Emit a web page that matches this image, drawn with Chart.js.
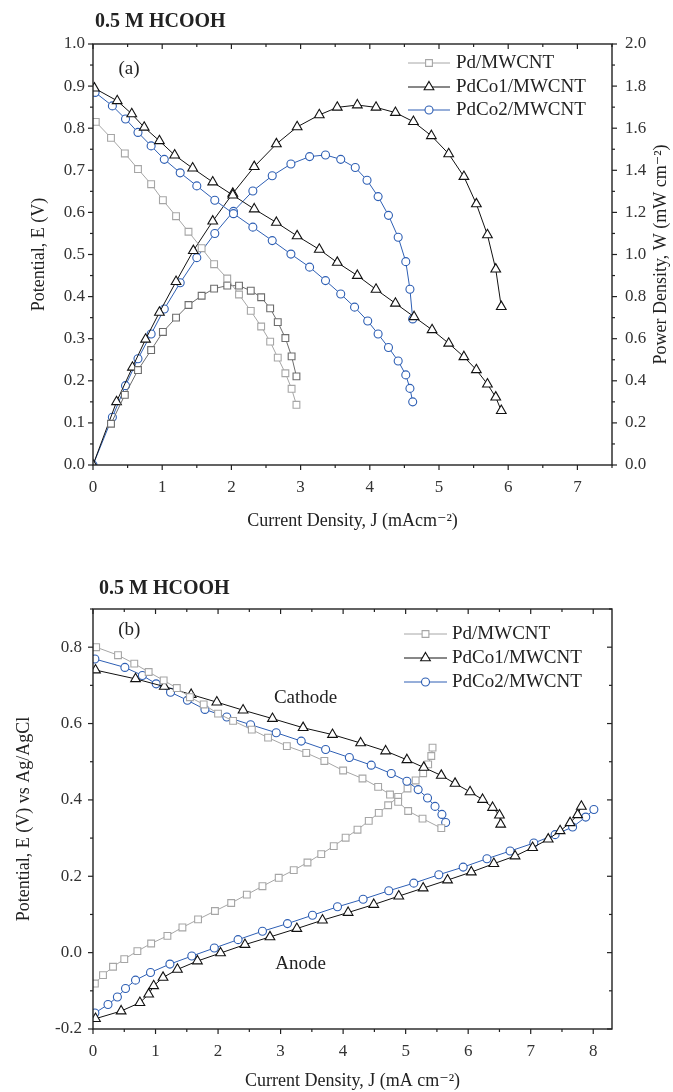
<!DOCTYPE html>
<html>
<head>
<meta charset="utf-8">
<title>Pd/MWCNT and PdCo/MWCNT in 0.5 M HCOOH</title>
<script src="https://cdn.jsdelivr.net/npm/chart.js@4.4.1/dist/chart.umd.min.js"></script>
<style>
  body { margin: 0; background: #fff; }
  canvas { position: absolute; left: 0; }
  #chartA { top: 0; }
  #chartB { top: 560px; }
</style>
</head>
<body>
<canvas id="chartA" width="673" height="545"></canvas>
<canvas id="chartB" width="673" height="532"></canvas>
<script>
// ---- (a) polarization (left axis) and power density (right axis) ----
var jPd  = [0.04,0.26,0.46,0.65,0.84,1.01,1.20,1.38,1.57,1.75,1.94,2.11,2.28,2.43,2.56,2.67,2.78,2.87,2.94];
var ePd  = [0.815,0.777,0.740,0.703,0.667,0.629,0.591,0.554,0.515,0.477,0.443,0.405,0.366,0.329,0.293,0.255,0.218,0.181,0.143];
var jPdW = [0.26,0.46,0.65,0.84,1.01,1.20,1.38,1.57,1.75,1.94,2.11,2.28,2.43,2.56,2.67,2.78,2.87,2.94];
var wPd  = [0.196,0.333,0.451,0.546,0.632,0.700,0.760,0.804,0.838,0.852,0.852,0.828,0.797,0.744,0.679,0.603,0.516,0.421];

var jCo1  = [0.02,0.35,0.56,0.74,0.96,1.18,1.44,1.73,2.02,2.33,2.65,2.95,3.27,3.53,3.82,4.09,4.37,4.64,4.90,5.14,5.36,5.54,5.70,5.82,5.90];
var eCo1  = [0.895,0.865,0.834,0.802,0.770,0.736,0.705,0.672,0.641,0.608,0.576,0.544,0.512,0.481,0.450,0.417,0.384,0.352,0.321,0.289,0.257,0.226,0.192,0.161,0.129];
var jCo1W = [0,0.34,0.57,0.76,0.96,1.20,1.45,1.73,2.02,2.33,2.65,2.95,3.27,3.53,3.82,4.09,4.37,4.63,4.89,5.14,5.36,5.54,5.70,5.82,5.90];
var wCo1  = [0,0.300,0.464,0.597,0.725,0.871,1.018,1.158,1.290,1.417,1.525,1.606,1.663,1.699,1.710,1.699,1.674,1.631,1.564,1.478,1.370,1.240,1.093,0.930,0.752];

var jCo2  = [0.03,0.28,0.47,0.65,0.84,1.03,1.26,1.50,1.76,2.03,2.31,2.59,2.86,3.13,3.36,3.58,3.78,3.97,4.12,4.27,4.41,4.52,4.58,4.62];
var eCo2  = [0.885,0.853,0.822,0.790,0.758,0.726,0.694,0.663,0.629,0.597,0.565,0.533,0.501,0.470,0.438,0.406,0.375,0.342,0.311,0.279,0.247,0.214,0.182,0.150];
var jCo2W = [0,0.28,0.47,0.65,0.84,1.03,1.26,1.50,1.76,2.03,2.31,2.59,2.86,3.13,3.36,3.58,3.79,3.96,4.12,4.27,4.41,4.52,4.58,4.62];
var wCo2  = [0,0.227,0.377,0.505,0.622,0.741,0.866,0.985,1.100,1.205,1.302,1.374,1.430,1.465,1.473,1.452,1.413,1.353,1.275,1.186,1.082,0.966,0.835,0.694];

// ---- (b) cathode and anode polarization vs Ag/AgCl ----
var jPdC = [0.05,0.40,0.66,0.89,1.13,1.34,1.55,1.77,2.00,2.24,2.54,2.80,3.10,3.41,3.70,4.00,4.31,4.56,4.75,4.88,5.04,5.27,5.57];
var ePdC = [0.800,0.779,0.757,0.735,0.713,0.693,0.669,0.650,0.626,0.607,0.584,0.563,0.541,0.523,0.502,0.477,0.456,0.434,0.414,0.395,0.371,0.351,0.326];
var jPdA = [0.03,0.16,0.32,0.50,0.71,0.93,1.19,1.43,1.68,1.95,2.21,2.46,2.71,2.97,3.21,3.43,3.65,3.85,4.04,4.23,4.41,4.57,4.72,4.88,5.03,5.16,5.28,5.36,5.41,5.43];
var ePdA = [-0.081,-0.059,-0.037,-0.017,0.004,0.024,0.044,0.066,0.087,0.109,0.130,0.152,0.174,0.196,0.216,0.236,0.258,0.279,0.301,0.322,0.345,0.366,0.386,0.408,0.430,0.451,0.470,0.493,0.515,0.537];

var jCo1C = [0.04,0.68,1.14,1.57,1.98,2.40,2.87,3.36,3.83,4.28,4.68,5.02,5.29,5.57,5.79,6.03,6.23,6.39,6.50,6.52];
var eCo1C = [0.740,0.717,0.697,0.676,0.656,0.635,0.613,0.589,0.571,0.549,0.528,0.505,0.485,0.464,0.443,0.421,0.401,0.380,0.360,0.336];
var jCo1A = [0.04,0.45,0.75,0.89,0.97,1.12,1.35,1.67,2.04,2.43,2.83,3.26,3.67,4.08,4.49,4.89,5.28,5.67,6.05,6.41,6.75,7.03,7.28,7.47,7.63,7.75,7.81];
var eCo1A = [-0.173,-0.153,-0.131,-0.109,-0.087,-0.065,-0.044,-0.022,-0.001,0.021,0.041,0.063,0.085,0.105,0.126,0.148,0.169,0.190,0.211,0.233,0.253,0.275,0.297,0.319,0.340,0.361,0.383];

var jCo2C = [0.03,0.51,0.79,1.01,1.24,1.51,1.79,2.14,2.52,2.93,3.33,3.72,4.10,4.45,4.77,5.02,5.20,5.35,5.47,5.58,5.64];
var eCo2C = [0.769,0.747,0.726,0.704,0.682,0.661,0.637,0.617,0.597,0.576,0.554,0.532,0.511,0.491,0.469,0.449,0.427,0.405,0.383,0.362,0.341];
var jCo2A = [0.03,0.24,0.39,0.52,0.68,0.92,1.23,1.58,1.94,2.32,2.71,3.11,3.51,3.91,4.32,4.73,5.13,5.53,5.92,6.30,6.67,7.05,7.39,7.67,7.88,8.01];
var eCo2A = [-0.158,-0.136,-0.116,-0.094,-0.072,-0.052,-0.030,-0.009,0.012,0.034,0.056,0.076,0.098,0.120,0.140,0.162,0.182,0.204,0.224,0.246,0.266,0.287,0.309,0.329,0.355,0.375];

var names = ['Pd/MWCNT', 'PdCo1/MWCNT', 'PdCo2/MWCNT'];

// styles
var GRAY = '#a6a6a6', DGRAY = '#6c6c6c', BLACK = '#111111', BLUE = '#2e5fb4';
var SERIF = '"Liberation Serif", "DejaVu Serif", serif';

function pts(xs, ys) {
  return xs.map(function (x, i) { return { x: x, y: ys[i] }; });
}
function isStep(v, s) {
  return Math.abs(v / s - Math.round(v / s)) < 1e-6;
}
function ds(label, xs, ys, color, style, r, axis) {
  return {
    label: label, data: pts(xs, ys), yAxisID: axis || 'y',
    showLine: true, borderColor: color, borderWidth: 1,
    pointStyle: style, pointRadius: r, pointHoverRadius: r,
    pointBorderColor: color, pointBackgroundColor: '#fff', pointBorderWidth: 1.1
  };
}

function drawMarker(ctx, style, x, y, r) {
  ctx.beginPath();
  if (style === 'rect') {
    var s = r * Math.SQRT1_2;
    ctx.rect(x - s, y - s, 2 * s, 2 * s);
  } else if (style === 'triangle') {
    ctx.moveTo(x, y - r);
    ctx.lineTo(x + 0.866 * r, y + 0.5 * r);
    ctx.lineTo(x - 0.866 * r, y + 0.5 * r);
    ctx.closePath();
  } else {
    ctx.arc(x, y, r, 0, Math.PI * 2);
  }
  ctx.fill();
  ctx.stroke();
}

// frame, tick marks, legend and labels
var decor = {
  id: 'decor',
  afterDraw: function (chart, args, o) {
    var ctx = chart.ctx, a = chart.chartArea;
    ctx.save();
    ctx.strokeStyle = '#222';
    ctx.lineWidth = 1.4;
    ctx.strokeRect(a.left, a.top, a.right - a.left, a.bottom - a.top);
    ctx.lineWidth = 1.2;
    o.marks.forEach(function (m) {
      var sc = chart.scales[m.scale];
      sc.ticks.forEach(function (t) {
        if (!isStep(t.value, m.step)) return;
        var len = isStep(t.value, m.major) ? 5 : 3;
        if (!m.out) len = -len;
        var p = sc.getPixelForValue(t.value);
        ctx.beginPath();
        if (m.side === 'bottom') { ctx.moveTo(p, a.bottom); ctx.lineTo(p, a.bottom + len); }
        if (m.side === 'top') { ctx.moveTo(p, a.top); ctx.lineTo(p, a.top - len); }
        if (m.side === 'left') { ctx.moveTo(a.left, p); ctx.lineTo(a.left - len, p); }
        if (m.side === 'right') { ctx.moveTo(a.right, p); ctx.lineTo(a.right + len, p); }
        ctx.stroke();
      });
    });

    // legend
    var lg = o.legend;
    ctx.font = '19px ' + SERIF;
    ctx.textBaseline = 'middle';
    ctx.textAlign = 'left';
    lg.items.forEach(function (idx, k) {
      var d = chart.data.datasets[idx], y = lg.ys[k];
      ctx.strokeStyle = d.borderColor;
      ctx.fillStyle = '#fff';
      ctx.lineWidth = 1;
      ctx.beginPath();
      ctx.moveTo(lg.x1, y); ctx.lineTo(lg.x2, y);
      ctx.stroke();
      ctx.lineWidth = 1.1;
      drawMarker(ctx, d.pointStyle, (lg.x1 + lg.x2) / 2, y, d.pointRadius);
      ctx.fillStyle = '#222';
      ctx.fillText(d.label, lg.xt, y);
    });

    // texts
    o.texts.forEach(function (t) {
      ctx.font = t.font;
      ctx.fillStyle = '#222';
      ctx.textAlign = t.align || 'center';
      var x = t.px !== undefined ? t.px : chart.scales.x.getPixelForValue(t.x);
      var y = t.py !== undefined ? t.py : chart.scales.y.getPixelForValue(t.y);
      ctx.save();
      ctx.translate(x, y);
      if (t.rot) ctx.rotate(t.rot);
      ctx.fillText(t.text, 0, 0);
      ctx.restore();
    });
    ctx.restore();
  }
};

function axisX(max, title, pad, h) {
  return {
    type: 'linear', min: 0, max: max,
    ticks: {
      stepSize: 0.5, autoSkip: false, maxRotation: 0, padding: pad, includeBounds: false,
      font: { family: SERIF, size: 17 }, color: '#333',
      callback: function (v) { return isStep(v, 1) ? v.toFixed(0) : ''; }
    },
    grid: { display: false, drawTicks: false },
    border: { display: false },
    title: { display: true, text: title, font: { family: SERIF, size: 18 }, color: '#222', padding: { top: 0, bottom: h.tb } },
    afterFit: function (s) { s.height = h.height; }
  };
}
function axisY(pos, min, max, step, major, title, pad, tpad, w) {
  return {
    type: 'linear', position: pos, min: min, max: max,
    ticks: {
      stepSize: step, autoSkip: false, padding: pad, includeBounds: false,
      font: { family: SERIF, size: 17 }, color: '#333',
      callback: function (v) { return isStep(v, major) ? v.toFixed(1) : ''; }
    },
    grid: { display: false, drawTicks: false },
    border: { display: false },
    title: { display: !!title, text: title, font: { family: SERIF, size: 18 }, color: '#222', padding: { top: tpad, bottom: 0 } },
    afterFit: function (s) { s.width = w; }
  };
}

// chart (a)
new Chart(document.getElementById('chartA'), {
  type: 'scatter',
  data: {
    datasets: [
      ds(names[0], jPd, ePd, GRAY, 'rect', 4.8),
      ds(names[1], jCo1, eCo1, BLACK, 'triangle', 5.6),
      ds(names[2], jCo2, eCo2, BLUE, 'circle', 4),
      ds(names[0] + ' W', jPdW, wPd, DGRAY, 'rect', 4.8, 'y2'),
      ds(names[1] + ' W', jCo1W, wCo1, BLACK, 'triangle', 5.6, 'y2'),
      ds(names[2] + ' W', jCo2W, wCo2, BLUE, 'circle', 4, 'y2')
    ]
  },
  options: {
    responsive: false, animation: false,
    layout: { padding: { top: 44, left: 0, right: 0, bottom: 0 } },
    plugins: {
      legend: { display: false }, tooltip: { enabled: false },
      decor: {
        marks: [
          { scale: 'x', side: 'bottom', out: true, step: 0.5, major: 1 },
          { scale: 'x', side: 'top', out: false, step: 0.5, major: 1 },
          { scale: 'y', side: 'left', out: true, step: 0.05, major: 0.1 },
          { scale: 'y2', side: 'right', out: true, step: 0.1, major: 0.2 }
        ],
        legend: { items: [0, 1, 2], x1: 408, x2: 450, xt: 456, ys: [63, 87, 110] },
        texts: [
          { text: '0.5 M HCOOH', px: 95, py: 22, align: 'left', font: 'bold 20px ' + SERIF },
          { text: '(a)', x: 0.52, y: 0.94, font: '19px ' + SERIF },
          { text: 'Power Density, W (mW cm\u207B\u00B2)', px: 661, y: 0.5, rot: -Math.PI / 2, font: '18px ' + SERIF }
        ]
      }
    },
    scales: {
      x: axisX(7.5, 'Current Density, J (mAcm\u207B\u00B2)', 12, { height: 80, tb: 13 }),
      y: axisY('left', 0, 1, 0.05, 0.1, 'Potential, E (V)', 8, 28, 93),
      y2: axisY('right', 0, 2, 0.1, 0.2, '', 13, 4, 61)
    }
  },
  plugins: [decor]
});

// chart (b)
new Chart(document.getElementById('chartB'), {
  type: 'scatter',
  data: {
    datasets: [
      ds(names[0], jPdC, ePdC, GRAY, 'rect', 4.8),
      ds(names[1], jCo1C, eCo1C, BLACK, 'triangle', 5.6),
      ds(names[2], jCo2C, eCo2C, BLUE, 'circle', 4),
      ds(names[0] + ' anode', jPdA, ePdA, GRAY, 'rect', 4.8),
      ds(names[1] + ' anode', jCo1A, eCo1A, BLACK, 'triangle', 5.6),
      ds(names[2] + ' anode', jCo2A, eCo2A, BLUE, 'circle', 4)
    ]
  },
  options: {
    responsive: false, animation: false,
    layout: { padding: { top: 49, left: 0, right: 61, bottom: 0 } },
    plugins: {
      legend: { display: false }, tooltip: { enabled: false },
      decor: {
        marks: [
          { scale: 'x', side: 'bottom', out: true, step: 0.5, major: 1 },
          { scale: 'x', side: 'top', out: false, step: 0.5, major: 1 },
          { scale: 'y', side: 'left', out: true, step: 0.1, major: 0.2 },
          { scale: 'y', side: 'right', out: false, step: 0.1, major: 0.2 }
        ],
        legend: { items: [0, 1, 2], x1: 404, x2: 447, xt: 452, ys: [74, 98, 122] },
        texts: [
          { text: '0.5 M HCOOH', px: 99, py: 29, align: 'left', font: 'bold 20px ' + SERIF },
          { text: '(b)', x: 0.58, y: 0.844, font: '19px ' + SERIF },
          { text: 'Cathode', x: 3.4, y: 0.666, font: '19px ' + SERIF },
          { text: 'Anode', x: 3.32, y: -0.03, font: '19px ' + SERIF }
        ]
      }
    },
    scales: {
      x: axisX(8.3, 'Current Density, J (mA cm\u207B\u00B2)', 12, { height: 63, tb: 0 }),
      y: axisY('left', -0.2, 0.9, 0.1, 0.2, 'Potential, E (V) vs Ag/AgCl', 11, 13, 93)
    }
  },
  plugins: [decor]
});
</script>
</body>
</html>
